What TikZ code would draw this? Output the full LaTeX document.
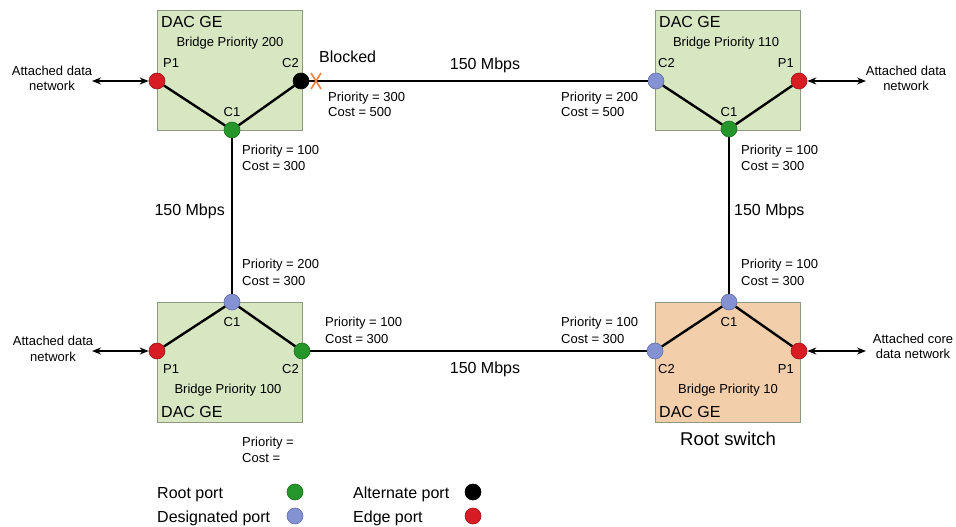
\documentclass[tikz,border=0pt]{standalone}
\usepackage{fontspec}
\setmainfont{Liberation Sans}
\usetikzlibrary{arrows.meta}
\definecolor{boxgreen}{RGB}{214,231,193}
\definecolor{boxorange}{RGB}{243,206,170}
\definecolor{boxedge}{RGB}{140,152,128}
\definecolor{portred}{RGB}{215,28,36}
\definecolor{portgreen}{RGB}{36,150,42}
\definecolor{portblue}{RGB}{132,146,212}
\definecolor{portblack}{RGB}{0,0,0}
\definecolor{xorange}{RGB}{240,128,60}
\begin{document}
\begin{tikzpicture}[x=1pt,y=-1pt,
  switchbox/.style={draw=boxedge, line width=1pt, fill=boxgreen, minimum width=145pt, minimum height=120pt, anchor=north west, inner sep=0pt},
  rootbox/.style={switchbox, fill=boxorange},
  port/.style={circle, minimum size=16pt, inner sep=0pt, draw=#1!75!black, line width=0.6pt, fill=#1},
  link/.style={line width=2.4pt, black},
  attach/.style={line width=1.3pt, {Stealth[length=9pt,width=7pt]}-{Stealth[length=9pt,width=7pt]}},
  sm/.style={font=\fontsize{13}{15}\selectfont, inner sep=0pt},
  md/.style={font=\fontsize{16}{18}\selectfont, inner sep=0pt},
  lg/.style={font=\fontsize{18.5}{20}\selectfont, inner sep=0pt}
]
\useasboundingbox[fill=white] (0,0) rectangle (956,527);

% switch boxes
\node[switchbox] (tlbox) at (157,10) {};
\node[switchbox] (trbox) at (655,10) {};
\node[switchbox] (blbox) at (157,302) {};
\node[rootbox]   (brbox) at (655,302) {};

% ports
\node[port=portred]   (tlP1) at (157,81) {};
\node[port=portblack] (tlC2) at (301,81) {};
\node[port=portgreen] (tlC1) at (232,130) {};
\node[port=portblue]  (trC2) at (656,81) {};
\node[port=portred]   (trP1) at (799,81) {};
\node[port=portgreen] (trC1) at (729,129) {};
\node[port=portblue]  (blC1) at (232,302) {};
\node[port=portred]   (blP1) at (157,351) {};
\node[port=portgreen] (blC2) at (302,351) {};
\node[port=portblue]  (brC1) at (729,302) {};
\node[port=portblue]  (brC2) at (655,351) {};
\node[port=portred]   (brP1) at (799,351) {};

% internal links
\draw[link] (tlP1) -- (tlC1) -- (tlC2);
\draw[link] (trC2) -- (trC1) -- (trP1);
\draw[link] (blP1) -- (blC1) -- (blC2);
\draw[link] (brC2) -- (brC1) -- (brP1);

% inter-switch links
\draw[link] (tlC2) -- (trC2);
\draw[link] (tlC1) -- (blC1);
\draw[link] (blC2) -- (brC2);
\draw[link] (trC1) -- (brC1);

% blocked mark
\draw[xorange, line width=1.6pt] (311,73) -- (321,89) (321,73) -- (311,89);

% attached networks
\coordinate (tlA) at (92,81);
\coordinate (trA) at (866,81);
\coordinate (blA) at (92,351);
\coordinate (brA) at (866,351);
\draw[attach] (tlA) -- (tlP1);
\draw[attach] (trP1) -- (trA);
\draw[attach] (blA) -- (blP1);
\draw[attach] (brP1) -- (brA);
\node[sm, anchor=base] (tlt1) at (52,76) {Attached data};
\node[sm, anchor=base] (tlt2) at (52,91) {network};
\node[sm, anchor=base] (trt1) at (906,76) {Attached data};
\node[sm, anchor=base] (trt2) at (906,91) {network};
\node[sm, anchor=base] (blt1) at (53,345) {Attached data};
\node[sm, anchor=base] (blt2) at (53,361) {network};
\node[sm, anchor=base] (brt1) at (913,343) {Attached core};
\node[sm, anchor=base] (brt2) at (913,358) {data network};

% top-left box texts
\node[md, anchor=base west] (tlname) at (161,28) {DAC GE};
\node[sm, anchor=base] (tlbp) at (230,47) {Bridge Priority 200};
\node[sm, anchor=base west] (tlP1l) at (163,68) {P1};
\node[sm, anchor=base east] (tlC2l) at (299,68) {C2};
\node[sm, anchor=base] (tlC1l) at (232,117) {C1};

% top-right box texts
\node[md, anchor=base west] (trname) at (659,28) {DAC GE};
\node[sm, anchor=base] (trbp) at (726,47) {Bridge Priority 110};
\node[sm, anchor=base west] (trC2l) at (658,68) {C2};
\node[sm, anchor=base east] (trP1l) at (794,68) {P1};
\node[sm, anchor=base] (trC1l) at (729,117) {C1};

% bottom-left box texts
\node[sm, anchor=base] (blC1l) at (232,326) {C1};
\node[sm, anchor=base west] (blP1l) at (163,373) {P1};
\node[sm, anchor=base east] (blC2l) at (299,373) {C2};
\node[sm, anchor=base] (blbp) at (228,393) {Bridge Priority 100};
\node[md, anchor=base west] (blname) at (161,417) {DAC GE};

% bottom-right box texts
\node[sm, anchor=base] (brC1l) at (729,326) {C1};
\node[sm, anchor=base west] (brC2l) at (658,373) {C2};
\node[sm, anchor=base east] (brP1l) at (794,373) {P1};
\node[sm, anchor=base] (brbp) at (728,393) {Bridge Priority 10};
\node[md, anchor=base west] (brname) at (659,417) {DAC GE};
\node[lg, anchor=base] (root) at (728,445) {Root switch};

% link labels
\node[md, anchor=base west] (blocked) at (319,63) {Blocked};
\node[md, anchor=base] (bw1) at (485,70) {150 Mbps};
\node[md, anchor=base east] (bw2) at (225,215) {150 Mbps};
\node[md, anchor=base west] (bw3) at (734,215) {150 Mbps};
\node[md, anchor=base] (bw4) at (485,373) {150 Mbps};

\node[sm, anchor=base west] (p1a) at (328,101) {Priority = 300};
\node[sm, anchor=base west] (p1b) at (328,117) {Cost = 500};
\node[sm, anchor=base west] (p2a) at (561,101) {Priority = 200};
\node[sm, anchor=base west] (p2b) at (561,117) {Cost = 500};
\node[sm, anchor=base west] (p3a) at (242,154) {Priority = 100};
\node[sm, anchor=base west] (p3b) at (242,170) {Cost = 300};
\node[sm, anchor=base west] (p4a) at (741,154) {Priority = 100};
\node[sm, anchor=base west] (p4b) at (741,170) {Cost = 300};
\node[sm, anchor=base west] (p5a) at (242,268) {Priority = 200};
\node[sm, anchor=base west] (p5b) at (242,285) {Cost = 300};
\node[sm, anchor=base west] (p6a) at (741,268) {Priority = 100};
\node[sm, anchor=base west] (p6b) at (741,285) {Cost = 300};
\node[sm, anchor=base west] (p7a) at (325,326) {Priority = 100};
\node[sm, anchor=base west] (p7b) at (325,343) {Cost = 300};
\node[sm, anchor=base west] (p8a) at (561,326) {Priority = 100};
\node[sm, anchor=base west] (p8b) at (561,343) {Cost = 300};
\node[sm, anchor=base west] (p9a) at (242,446) {Priority =};
\node[sm, anchor=base west] (p9b) at (242,462) {Cost =};

% legend
\node[md, anchor=base west] (lgroot) at (157,498) {Root port};
\node[md, anchor=base west] (lgdes) at (157,522) {Designated port};
\node[md, anchor=base west] (lgalt) at (353,498) {Alternate port};
\node[md, anchor=base west] (lgedge) at (353,522) {Edge port};
\node[port=portgreen] (lgrootdot) at (295,492) {};
\node[port=portblue]  (lgdesdot) at (295,516) {};
\node[port=portblack] (lgaltdot) at (473,492) {};
\node[port=portred]   (lgedgedot) at (473,516) {};
\end{tikzpicture}
\end{document}
